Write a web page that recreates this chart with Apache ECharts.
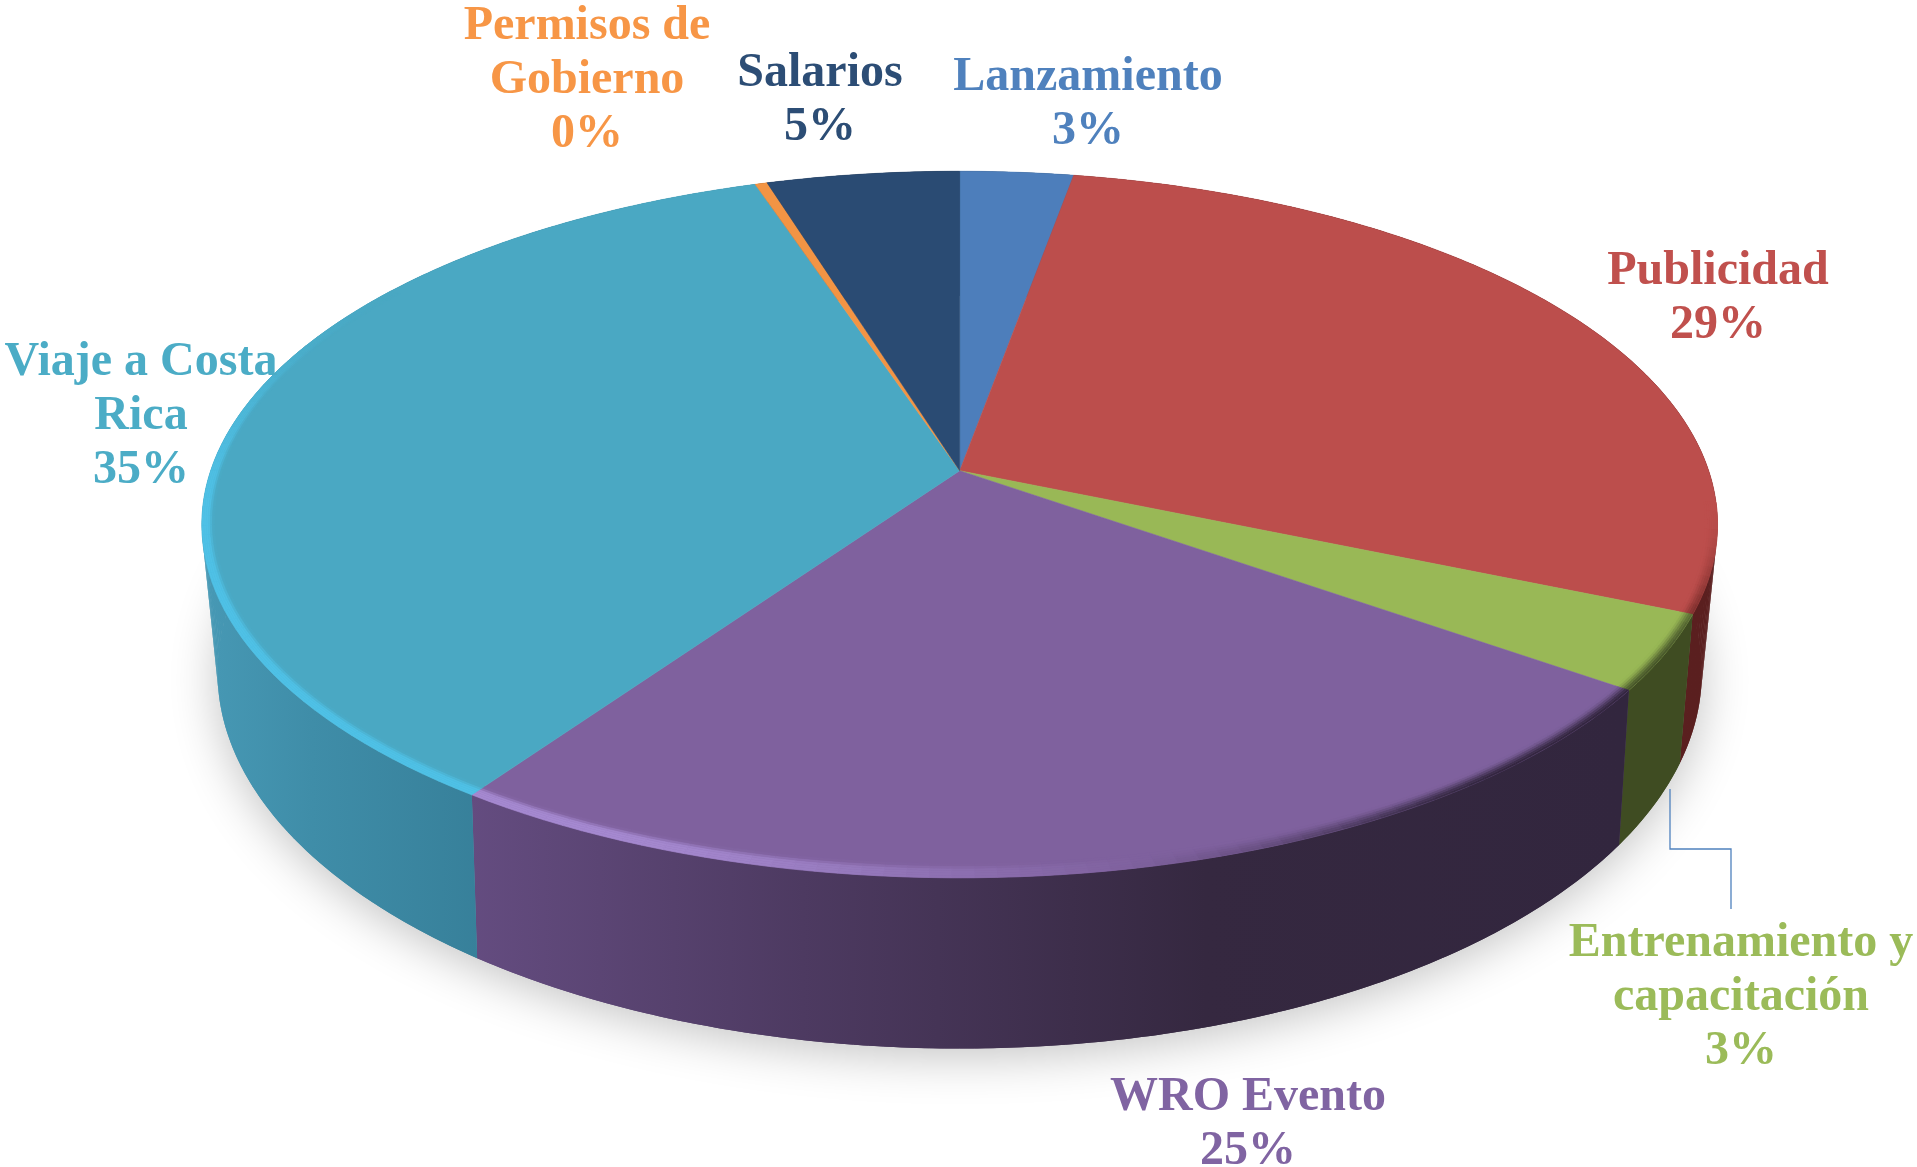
<!DOCTYPE html>
<html>
<head>
<meta charset="utf-8">
<style>html,body{margin:0;padding:0;background:#fff}#c{width:1917px;height:1167px}</style>
<script src="https://cdn.jsdelivr.net/npm/echarts@6/dist/echarts.min.js"></script>
</head>
<body>
<div id="c"></div>
<script>
// ---- data, clockwise from twelve o'clock ----
const categories = ['Lanzamiento', 'Publicidad', 'Entrenamiento y capacitación', 'WRO Evento', 'Viaje a Costa Rica', 'Permisos de Gobierno', 'Salarios'];
const shares = [2.8, 28.6, 3.45, 24.8, 35.29, 0.3, 4.76];

// ---- styles ----
const topColors  = ['#4D7EBB', '#BC4E4C', '#99B856', '#7F619E', '#4AA8C3', '#F29444', '#2A4B73'];
const textColors = ['#4F81BD', '#C0504D', '#9BBB59', '#8064A2', '#4BACC6', '#F79646', '#2C4D75'];
const rimDark    = ['#2F4D72', '#6A2624', '#46542A', '#32263E', '#38809A', '#8E5522', '#1C3048'];
const rimLight   = ['#4D7EBB', '#BC4E4C', '#99B856', '#A589D0', '#4FC1E6', '#F29444', '#2A4B73'];
const wallStops  = [
  [[0, '#2F4D72'], [1, '#2F4D72']],
  [[0, '#5C2020'], [1, '#5A1F1F']],
  [[0, '#3F4C22'], [1, '#3F4C22']],
  [[0, '#644C80'], [0.29, '#4D3A61'], [0.64, '#352840'], [1, '#32263E']],
  [[0, '#4799B5'], [0.4, '#3F8DA8'], [1, '#37809A']],
  [[0, '#8E5522'], [1, '#8E5522']],
  [[0, '#1C3048'], [1, '#1C3048']]
];
const wallSpan = [[960, 1060], [1060, 1720], [1610, 1690], [470, 1620], [200, 480], [700, 770], [770, 960]];

// ---- projection of the disc: perspective view of its top and bottom planes ----
const CX = 959.7;
const topPlane    = {a: 749, b: 345.1, c: 0.1523, y: 470.7};
const bottomPlane = {a: 732, b: 366.2, c: 0.165,  y: 610};
function project(pl, deg, r) {
  const t = deg * Math.PI / 180, X = r * Math.sin(t), Y = r * Math.cos(t), w = 1 + pl.c * Y;
  return [CX + pl.a * X / w, pl.y - pl.b * Y / w];
}

// ---- labels ----
const labelLayout = [
  {x: 1088, y: 105, lines: ['Lanzamiento']},
  {x: 1718, y: 299, lines: ['Publicidad']},
  {x: 1741, y: 998, lines: ['Entrenamiento y', 'capacitación']},
  {x: 1248, y: 1125, lines: ['WRO Evento']},
  {x: 141,  y: 417, lines: ['Viaje a Costa', 'Rica']},
  {x: 587,  y: 81,  lines: ['Permisos de', 'Gobierno']},
  {x: 820,  y: 101, lines: ['Salarios']}
];
const LINE_H = 54;
const BEVEL_PX = 12;
const leader = [[1670, 789], [1670, 849], [1731, 849], [1731, 909]];

const total = shares.reduce((s, v) => s + v, 0);
function startAngle(i) {
  let s = 0;
  for (let k = 0; k < i; k++) s += shares[k];
  return s / total * 360;
}
const rgb = h => [1, 3, 5].map(i => parseInt(h.substr(i, 2), 16));
const toCss = c => 'rgb(' + c.map(Math.round).join(',') + ')';
const lerp = (A, B, t) => A.map((v, i) => v + (B[i] - v) * t);
const step = (e0, e1, x) => { const t = Math.min(1, Math.max(0, (x - e0) / (e1 - e0))); return t * t * (3 - 2 * t); };

function arc(pl, a0, a1, r) {
  const n = Math.max(2, Math.ceil(Math.abs(a1 - a0) / 0.5)), pts = [];
  for (let i = 0; i <= n; i++) pts.push(project(pl, a0 + (a1 - a0) * i / n, r));
  return pts;
}
// radius step that equals one screen pixel at a given angle
function pxToRadius(deg) {
  const t = deg * Math.PI / 180;
  return 1 / Math.hypot(topPlane.a * Math.sin(t), 400 * Math.cos(t));
}

function renderSlice(params, api) {
  const i = params.dataIndex;
  const a0 = startAngle(i), a1 = a0 + api.value(0) / total * 360;
  const children = [];

  // floor shadow, drawn once
  if (i === 0) {
    children.push({
      type: 'polygon', z2: 0,
      shape: {points: arc(bottomPlane, 0, 360, 1)},
      style: {fill: '#d8d8d8', shadowBlur: 48, shadowColor: 'rgba(0,0,0,0.24)', shadowOffsetY: 8}
    });
  }

  // outer wall: one seamless polygon, plus quads that keep the silhouette convex
  const span = wallSpan[i];
  const wallFill = new echarts.graphic.LinearGradient(span[0], 0, span[1], 0,
    wallStops[i].map(s => ({offset: s[0], color: s[1]})), true);
  children.push({
    type: 'polygon', z2: 1,
    shape: {points: arc(topPlane, a0, a1, 1).concat(arc(bottomPlane, a1, a0, 1))},
    style: {fill: wallFill}
  });
  const wn = Math.max(1, Math.ceil((a1 - a0) / 1));
  for (let k = 0; k < wn; k++) {
    const w0 = a0 + (a1 - a0) * k / wn, w1 = a0 + (a1 - a0) * (k + 1) / wn;
    children.push({
      type: 'polygon', z2: 1,
      shape: {points: [project(topPlane, w0, 1), project(topPlane, w1, 1),
                       project(bottomPlane, w1, 1), project(bottomPlane, w0, 1)]},
      style: {fill: wallFill}
    });
  }

  // top face
  children.push({
    type: 'polygon', z2: 2,
    shape: {points: [project(topPlane, 0, 0)].concat(arc(topPlane, a0, a1, 1))},
    style: {fill: topColors[i], stroke: topColors[i], lineWidth: 0.5}
  });

  // bevel along the rim: constant screen width, light on the left, dark on the right
  const layers = 6, n = Math.max(1, Math.ceil((a1 - a0) / 1.5));
  const base = rgb(topColors[i]), light = rgb(rimLight[i]), dark = rgb(rimDark[i]);
  for (let k = 0; k < n; k++) {
    const b0 = a0 + (a1 - a0) * k / n, b1 = a0 + (a1 - a0) * (k + 1) / n, m = (b0 + b1) / 2;
    const hi = step(163, 205, m) * (1 - step(262, 305, m));
    const lo = step(95, 122, m) * (1 - step(140, 172, m));
    if (hi <= 0 && lo <= 0) continue;
    const d0 = pxToRadius(b0) * BEVEL_PX / layers, d1 = pxToRadius(b1) * BEVEL_PX / layers;
    for (let q = 0; q < layers; q++) {
      const f = (q + 0.5) / layers;           // 0 at the rim, 1 on the inner edge
      const hp = f < 0.5 ? 1 : 1 - step(0.5, 1, f);
      const dp = 1 - step(0, 1, f);
      const col = lerp(lerp(base, light, hi * hp), dark, lo * dp);
      const c = toCss(col);
      children.push({
        type: 'polygon', z2: 3,
        shape: {points: [project(topPlane, b0, 1 - q * d0), project(topPlane, b1, 1 - q * d1),
                         project(topPlane, b1, 1 - (q + 1) * d1), project(topPlane, b0, 1 - (q + 1) * d0)]},
        style: {fill: c, stroke: c, lineWidth: 0.5}
      });
    }
  }

  // label
  const lay = labelLayout[i];
  children.push({
    type: 'text', z2: 5, x: lay.x, y: lay.y,
    style: {
      text: lay.lines.join('\n') + '\n' + Math.round(api.value(0)) + '%',
      fill: textColors[i], align: 'center', verticalAlign: 'middle',
      font: 'bold 48px "Liberation Serif", serif', lineHeight: LINE_H
    }
  });
  if (i === 2) {
    children.push({
      type: 'polyline', z2: 4, shape: {points: leader},
      style: {fill: null, stroke: '#4F81BD', lineWidth: 1.3}
    });
  }
  return {type: 'group', children};
}

const chart = echarts.init(document.getElementById('c'), null, {renderer: 'canvas'});
chart.setOption({
  backgroundColor: '#fff',
  animation: false,
  series: [{
    type: 'custom',
    coordinateSystem: 'none',
    clip: false,
    silent: true,
    renderItem: renderSlice,
    data: categories.map((name, i) => ({name, value: [shares[i]]}))
  }]
});
</script>
</body>
</html>
